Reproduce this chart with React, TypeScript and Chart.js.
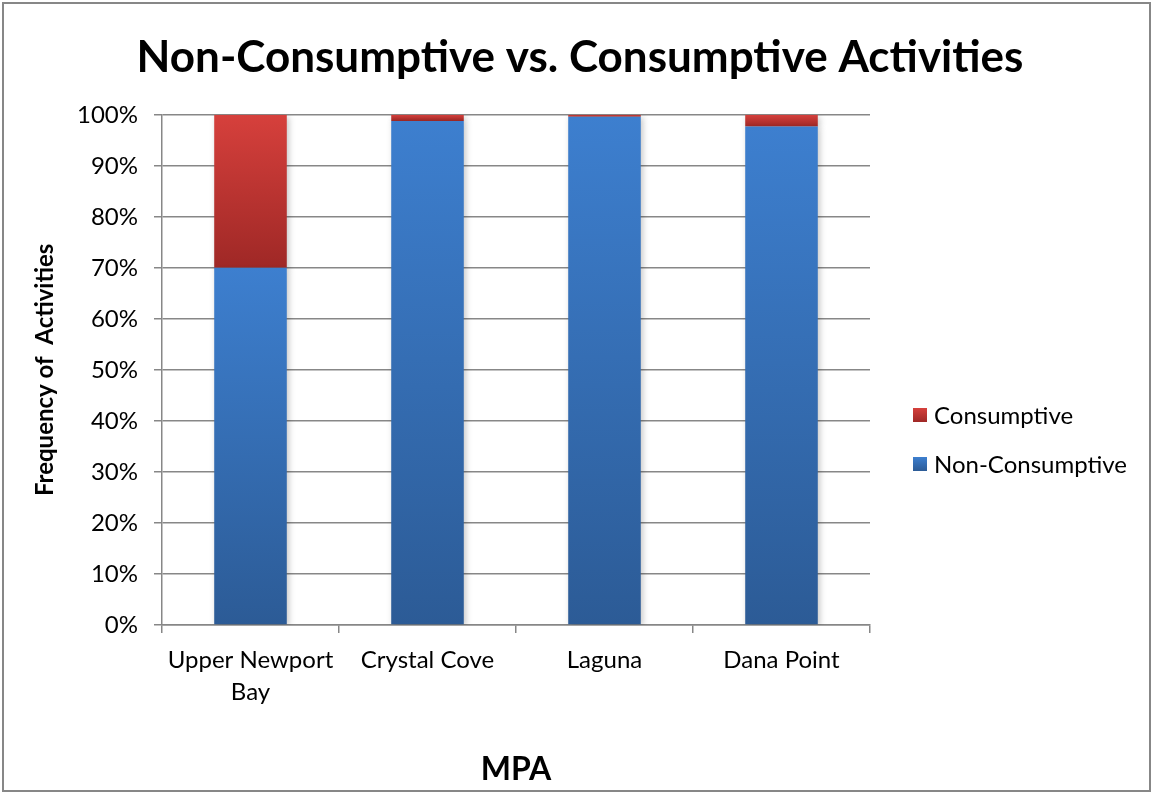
import { useEffect, useRef } from 'react';
import { Chart, registerables } from 'chart.js';
Chart.register(...registerables);

const categories: (string | string[])[] = [['Upper Newport', 'Bay'], 'Crystal Cove', 'Laguna', 'Dana Point'];
const nonConsumptive = [70, 98.8, 99.6, 97.7];
const consumptive = [30, 1.2, 0.4, 2.3];
const seriesNames = ['Non-Consumptive', 'Consumptive'];
const titleText = 'Non-Consumptive vs. Consumptive Activities';
const yTitle = 'Frequency of  Activities';
const xTitle = 'MPA';

const FONT = 'Lato';
const blueStops = ['#3d7fcf', '#2c5b96'];
const redStops = ['#d6403c', '#9f2826'];

function makeFill(stops: string[], lowArr: number[] | null, valArr: number[]) {
  return (ctx: any) => {
    if (ctx.type !== 'data') return stops[0];
    const chart = ctx.chart;
    const y = chart.scales && chart.scales.y;
    if (!y || !chart.chartArea) return stops[0];
    const i = ctx.dataIndex;
    const lo = lowArr ? lowArr[i] : 0;
    const hi = lo + valArr[i];
    const top = y.getPixelForValue(hi);
    const bot = y.getPixelForValue(lo);
    if (!isFinite(top) || !isFinite(bot) || bot - top < 0.5) return stops[0];
    const g = chart.ctx.createLinearGradient(0, top, 0, bot);
    g.addColorStop(0, stops[0]);
    g.addColorStop(1, stops[1]);
    return g;
  };
}

const framePlugin = {
  id: 'frame',
  beforeDatasetsDraw(chart: any) {
    const c = chart.ctx;
    c.save();
    c.shadowColor = 'rgba(0,0,0,0.22)';
    c.shadowBlur = 6;
    c.shadowOffsetX = 2;
    c.shadowOffsetY = 2;
  },
  afterDatasetsDraw(chart: any) {
    chart.ctx.restore();
  },
  afterDraw(chart: any) {
    const c = chart.ctx;
    c.save();
    c.strokeStyle = '#878787';
    c.lineWidth = 2;
    c.strokeRect(3, 3, chart.width - 6, chart.height - 6);
    // legend
    const items = [
      { label: seriesNames[1], stops: redStops },
      { label: seriesNames[0], stops: blueStops },
    ];
    const x0 = chart.chartArea.right + 43;
    const yStart = 415;
    items.forEach((it, k) => {
      const cy = yStart + k * 49;
      const g = c.createLinearGradient(0, cy - 7, 0, cy + 7);
      g.addColorStop(0, it.stops[0]);
      g.addColorStop(1, it.stops[1]);
      c.fillStyle = g;
      c.fillRect(x0, cy - 7, 14, 14);
      c.fillStyle = '#000';
      c.font = `24px ${FONT}`;
      c.textBaseline = 'middle';
      c.textAlign = 'left';
      c.fillText(it.label, x0 + 21, cy + 1);
    });
    c.restore();
  },
};

export default function App() {
  const ref = useRef<HTMLCanvasElement>(null);
  useEffect(() => {
    document.body.style.margin = '0';
    const chart = new Chart(ref.current!, {
      type: 'bar',
      data: {
        labels: categories,
        datasets: [
          {
            label: seriesNames[0],
            data: nonConsumptive,
            backgroundColor: makeFill(blueStops, null, nonConsumptive),
            borderWidth: 0,
            categoryPercentage: 1,
            barPercentage: 0.41,
          },
          {
            label: seriesNames[1],
            data: consumptive,
            backgroundColor: makeFill(redStops, nonConsumptive, consumptive),
            borderWidth: 0,
            categoryPercentage: 1,
            barPercentage: 0.41,
          },
        ],
      },
      options: {
        animation: false,
        responsive: true,
        maintainAspectRatio: false,
        layout: { padding: { top: 0, left: 22, right: 15, bottom: 5 } },
        plugins: {
          legend: { display: false },
          tooltip: { enabled: false },
          title: {
            display: true,
            text: titleText,
            color: '#000',
            font: { family: FONT, size: 44, weight: 'bold' },
            padding: { top: 31, bottom: 31 },
          },
        },
        scales: {
          x: {
            stacked: true,
            offset: true,
            grid: {
              display: true,
              drawOnChartArea: false,
              offset: true,
              color: '#878787',
              lineWidth: 1.5,
              tickLength: 8,
            },
            border: { display: true, color: '#878787', width: 1.5 },
            ticks: {
              color: '#000',
              font: { family: FONT, size: 24, lineHeight: 1.3 },
              padding: 12,
              maxRotation: 0,
              autoSkip: false,
            },
            title: {
              display: true,
              text: xTitle,
              color: '#000',
              font: { family: FONT, size: 32, weight: 'bold' },
              padding: { top: 0, bottom: 0 },
            },
            afterFit: (s: any) => {
              s.height = 164;
            },
          },
          y: {
            stacked: true,
            min: 0,
            max: 100,
            ticks: {
              stepSize: 10,
              color: '#000',
              font: { family: FONT, size: 24 },
              padding: 16,
              callback: (v: any) => v + '%',
            },
            grid: { color: '#878787', lineWidth: 1.5, tickLength: 8 },
            border: { display: true, color: '#878787', width: 1.5 },
            title: {
              display: true,
              text: yTitle,
              color: '#000',
              font: { family: FONT, size: 24, weight: 'bold' },
              padding: { top: 9, bottom: 0 },
            },
            afterFit: (s: any) => {
              s.width = 140;
            },
          },
          legendSpace: {
            type: 'linear',
            position: 'right',
            display: true,
            ticks: { display: false },
            grid: { display: false },
            border: { display: false },
            afterFit: (s: any) => {
              s.width = 268;
            },
          },
        },
      },
      plugins: [framePlugin],
    });
    return () => chart.destroy();
  }, []);
  return (
    <div style={{ width: 1153, height: 794, position: 'relative' }}>
      <canvas ref={ref} />
    </div>
  );
}
